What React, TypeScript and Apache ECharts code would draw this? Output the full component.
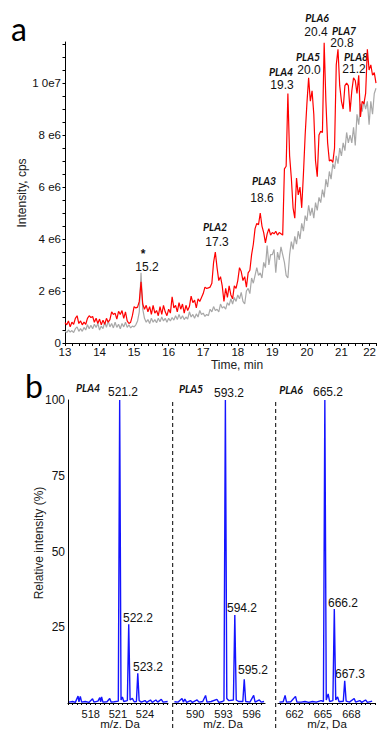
import React, { useEffect, useRef } from 'react';
import * as echarts from 'echarts';

// ---------- Panel a: total ion chromatograms (intensity in millions of cps) ----------
const TIME_START = 13;
const TIME_STEP = 0.05;

// sample trace (red), one row per minute, 0.05 min apart
const sampleIntensity = [
  0.78, 0.70, 0.85, 0.62, 0.80, 0.72, 0.95, 1.05, 0.75, 0.85, 0.70, 0.80, 0.72, 0.95, 1.05, 0.98, 1.02, 0.80, 0.95, 0.75,
  0.92, 0.70, 0.88, 0.72, 0.95, 0.80, 0.90, 1.20, 1.10, 1.15, 0.92, 1.22, 1.10, 1.25, 0.95, 1.20, 0.85, 0.75, 0.80, 1.05,
  1.40, 1.35, 1.38, 1.60, 2.35, 1.50, 1.30, 1.45, 1.20, 1.40, 1.10, 1.45, 1.15, 1.25, 1.05, 1.40, 1.10, 1.45, 1.20, 1.05,
  1.30, 1.15, 1.78, 1.35, 1.45, 1.20, 1.55, 1.30, 1.50, 1.15, 1.45, 1.25, 1.40, 1.80, 1.55, 1.65, 1.35, 1.70, 1.60, 1.75,
  1.90, 2.15, 2.10, 2.12, 2.15, 2.30, 3.10, 3.50, 2.90, 2.40, 2.55, 2.20, 1.60, 2.10, 1.75, 2.20, 1.85, 1.70, 2.20, 2.10,
  2.40, 2.90, 2.75, 2.40, 2.55, 2.15, 2.70, 2.80, 3.40, 3.80, 4.40, 4.60, 4.55, 5.00, 4.50, 4.25, 3.85, 4.20, 4.40, 4.15,
  4.25, 4.20, 4.30, 4.15, 4.25, 4.20, 4.15, 6.70, 6.80, 9.60, 7.20, 6.35, 5.20, 4.80, 6.35, 5.70, 6.00, 5.20, 6.50, 8.00,
  9.20, 10.20, 9.30, 9.70, 8.80, 7.00, 6.40, 8.00, 8.15, 8.10, 11.55, 9.30, 7.70, 7.00, 7.05, 6.95, 7.50, 10.70, 11.30, 9.90,
  9.30, 9.00, 9.90, 10.00, 9.90, 8.90, 9.70, 10.20, 10.10, 9.60, 10.30, 8.70, 9.30, 9.20, 9.60, 11.30, 10.50, 10.70, 10.30, 10.40,
  10.00,
];

// control trace (grey)
const controlIntensity = [
  0.45, 0.40, 0.50, 0.42, 0.48, 0.40, 0.55, 0.62, 0.45, 0.55, 0.45, 0.60, 0.50, 0.70, 0.55, 0.68, 0.55, 0.72, 0.60, 0.75,
  0.50, 0.65, 0.55, 0.80, 0.60, 0.85, 0.62, 0.75, 0.58, 0.80, 0.60, 0.72, 0.55, 0.75, 0.62, 0.80, 0.60, 0.70, 0.58, 0.65,
  0.62, 0.70, 0.85, 1.20, 2.70, 1.30, 0.95, 0.80, 0.90, 0.75, 0.95, 0.80, 0.90, 0.78, 0.95, 0.82, 1.00, 0.85, 0.95, 0.80,
  0.95, 0.85, 0.98, 0.88, 1.05, 0.90, 1.10, 0.92, 1.05, 0.90, 1.00, 0.92, 1.20, 1.00, 1.10, 0.95, 1.12, 1.00, 1.25, 1.10,
  1.15, 1.02, 1.10, 1.05, 1.30, 1.20, 1.40, 1.25, 1.30, 1.20, 1.50, 1.35, 1.40, 1.30, 1.55, 1.45, 1.70, 1.50, 1.75, 1.60,
  1.85, 1.70, 1.95, 1.60, 1.50, 2.00, 2.10, 1.90, 2.50, 2.30, 2.60, 2.90, 2.60, 2.70, 2.50, 3.10, 2.90, 3.75, 3.00, 3.40,
  3.40, 3.60, 2.70, 3.50, 3.20, 3.70, 3.40, 3.10, 2.60, 2.50, 3.40, 3.90, 3.60, 4.10, 3.80, 4.30, 4.00, 4.60, 4.30, 4.90,
  4.70, 5.30, 4.90, 5.20, 4.80, 5.40, 5.10, 5.60, 5.40, 5.90, 5.60, 6.30, 6.00, 6.60, 6.30, 6.90, 6.70, 7.20, 6.90, 7.50,
  7.20, 7.70, 7.40, 8.10, 7.70, 8.00, 7.70, 8.30, 7.60, 8.80, 8.40, 9.20, 8.90, 9.30, 9.00, 9.30, 8.40, 9.30, 8.80, 9.60,
  9.80,
];

const yTickValues = [0, 2, 4, 6, 8, 10];
const yTickLabels = ['0', '2 e6', '4 e6', '6 e6', '8 e6', '1 0e7'];

const chromPeakNames = ['*', 'PLA2', 'PLA3', 'PLA4', 'PLA5', 'PLA6', 'PLA7', 'PLA8'];
const chromPeakTimes = ['15.2', '17.3', '18.6', '19.3', '20.0', '20.4', '20.8', '21.2'];

// ---------- Panel b: mass spectra (relative intensity, %) ----------
const pla4Mz = [515.6, 516.0, 516.3, 516.6, 516.7, 516.85, 517.0, 517.4, 517.8, 518.2, 518.35, 518.8, 519.0, 519.1, 519.2, 519.35, 519.8, 520.1, 520.25, 520.6, 521.05, 521.2, 521.35, 521.5, 521.65, 522.05, 522.2, 522.35, 522.6, 522.8, 523.05, 523.2, 523.35, 523.6, 524.0, 524.2, 524.6, 524.8, 525.2, 525.4, 525.8, 526.0, 526.5];
const pla4Int = [0.3, 0.5, 0.2, 2.3, 0.4, 2.2, 0.3, 0.5, 0.2, 1.4, 0.3, 0.6, 1.8, 0.4, 2.0, 0.3, 0.4, 1.5, 0.3, 0.4, 0.6, 100, 1.0, 2.0, 0.5, 0.8, 26, 1.0, 1.5, 0.4, 0.5, 9.8, 0.8, 0.3, 0.8, 0.2, 1.0, 0.2, 1.0, 0.3, 1.2, 0.3, 0.5];

const pla5Mz = [587.8, 588.2, 588.6, 588.75, 588.9, 589.1, 589.5, 589.7, 590.2, 590.4, 590.8, 591.1, 591.25, 591.7, 592.3, 592.5, 592.9, 593.05, 593.2, 593.35, 593.55, 594.05, 594.2, 594.35, 594.6, 595.05, 595.2, 595.35, 595.8, 596.2, 596.35, 596.8, 597.0, 597.3];
const pla5Int = [0.4, 0.3, 1.5, 0.3, 1.3, 0.2, 0.8, 0.2, 1.0, 0.3, 0.5, 2.5, 0.3, 0.5, 1.2, 0.2, 0.5, 0.8, 100, 1.5, 0.8, 1.0, 29, 1.0, 0.5, 0.5, 7.8, 0.5, 0.3, 2.5, 0.3, 1.0, 0.3, 0.5];

const pla6Mz = [660.4, 660.8, 661.0, 661.15, 661.6, 662.1, 662.25, 662.7, 663.1, 663.5, 663.9, 664.3, 664.8, 665.05, 665.2, 665.35, 665.55, 665.7, 666.05, 666.2, 666.35, 666.55, 666.7, 667.15, 667.3, 667.45, 667.8, 668.3, 668.45, 668.9, 669.1, 669.5, 669.7, 670.2];
const pla6Int = [0.3, 0.4, 2.5, 0.3, 0.4, 2.2, 0.3, 0.3, 0.5, 0.2, 0.5, 0.3, 0.8, 0.5, 100, 1.0, 3.0, 0.5, 0.8, 31, 1.0, 2.0, 0.4, 0.6, 7.3, 0.6, 0.3, 1.5, 0.3, 0.8, 0.2, 1.0, 0.2, 0.6];

const specNames = ['PLA4', 'PLA5', 'PLA6'];
const specPeakLabels = ['521.2', '522.2', '523.2', '593.2', '594.2', '595.2', '665.2', '666.2', '667.3'];
const specTickLabels = [[518, 521, 524], [590, 593, 596], [662, 665, 668]];
const specRanges = [[515.49, 526.54], [587.7, 597.4], [660.25, 670.5]];
const relTickValues = [25, 50, 75, 100];

// ---------- layout (pixel positions for annotations only) ----------
const chromNamePos = [[143, 254], [215, 227], [264, 181], [281, 72], [308, 57], [317, 18], [344, 31], [356, 57]];
const chromTimePos = [[147, 267], [217, 242], [262, 198], [282, 85], [309, 70], [316, 32], [342, 43], [354, 69]];
const specNamePos = [[88, 388], [191, 389], [291, 390]];
const specPeakPos = [[123, 392], [138, 618], [148, 667], [229, 393], [242, 608], [253, 670], [328, 392], [343, 603], [350, 674]];
const specUnitPos = [[120, 724], [223, 724], [327, 724]];
const specUnitTexts = ['m/z. Da', 'm/z. Da', 'm/z, Da'];

const NUM_FONT = '"Liberation Sans", Arial, sans-serif';
const LBL_FONT = 'Lato, "Open Sans", sans-serif';

function halfSteps(a: number, b: number): number[] {
  const out: number[] = [];
  for (let v = Math.ceil(a * 2) / 2; v <= b + 1e-9; v += 0.5) out.push(+v.toFixed(2));
  return out;
}

export default function App() {
  const ref = useRef<HTMLDivElement>(null);
  useEffect(() => {
    if (!ref.current) return;
    const chart = echarts.init(ref.current, undefined, { renderer: 'svg' });

    const times = sampleIntensity.map((_, i) => +(TIME_START + i * TIME_STEP).toFixed(2));
    const red = sampleIntensity.map((v, i) => [times[i], v]);
    const grey = controlIntensity.map((v, i) => [times[i], v]);
    const specs = [
      pla4Mz.map((m, i) => [m, pla4Int[i]]),
      pla5Mz.map((m, i) => [m, pla5Int[i]]),
      pla6Mz.map((m, i) => [m, pla6Int[i]]),
    ];

    const timeMinorTicks: number[] = [];
    for (let i = 0; i <= 45; i++) timeMinorTicks.push(+(13 + i * 0.2).toFixed(2));
    const intTicks: number[] = [];
    for (let i = 0; i <= 23; i++) intTicks.push(i * 0.5);

    const black = '#000';
    const graphics: any[] = [];
    graphics.push({ type: 'text', x: 19, y: 28, style: { text: 'a', fontSize: 32, fontFamily: 'Lato, sans-serif', fill: black, align: 'center', verticalAlign: 'middle' } });
    graphics.push({ type: 'text', x: 34, y: 385, style: { text: 'b', fontSize: 32, fontFamily: 'Lato, sans-serif', fill: black, align: 'center', verticalAlign: 'middle' } });
    graphics.push({ type: 'text', x: 22, y: 193, rotation: Math.PI / 2, style: { text: 'Intensity, cps', fontSize: 12, fontFamily: NUM_FONT, fill: '#222', align: 'center', verticalAlign: 'middle' } });
    graphics.push({ type: 'text', x: 237, y: 365, style: { text: 'Time, min', fontSize: 12, fontFamily: NUM_FONT, fill: '#222', align: 'center', verticalAlign: 'middle' } });
    graphics.push({ type: 'text', x: 39, y: 543, rotation: Math.PI / 2, style: { text: 'Relative intensity (%)', fontSize: 12, fontFamily: NUM_FONT, fill: '#222', align: 'center', verticalAlign: 'middle' } });

    chromPeakNames.forEach((n, i) => {
      const star = n === '*';
      graphics.push({ type: 'text', x: chromNamePos[i][0], y: chromNamePos[i][1], style: { text: n, fontSize: star ? 12 : 10.5, fontWeight: 'bold', fontStyle: star ? 'normal' : 'italic', fontFamily: star ? NUM_FONT : LBL_FONT, fill: '#111', align: 'center', verticalAlign: 'middle' } });
      graphics.push({ type: 'text', x: chromTimePos[i][0], y: chromTimePos[i][1], style: { text: chromPeakTimes[i], fontSize: 12, fontFamily: NUM_FONT, fill: '#111', align: 'center', verticalAlign: 'middle' } });
    });
    specNames.forEach((n, i) => {
      graphics.push({ type: 'text', x: specNamePos[i][0], y: specNamePos[i][1], style: { text: n, fontSize: 10.5, fontWeight: 'bold', fontStyle: 'italic', fontFamily: LBL_FONT, fill: '#111', align: 'center', verticalAlign: 'middle' } });
    });
    specPeakLabels.forEach((t, i) => {
      graphics.push({ type: 'text', x: specPeakPos[i][0], y: specPeakPos[i][1], style: { text: t, fontSize: 12, fontFamily: NUM_FONT, fill: '#111', align: 'center', verticalAlign: 'middle' } });
    });
    specUnitTexts.forEach((t, i) => {
      graphics.push({ type: 'text', x: specUnitPos[i][0], y: specUnitPos[i][1], style: { text: t, fontSize: 11.5, fontFamily: NUM_FONT, fill: '#111', align: 'center', verticalAlign: 'middle' } });
    });
    [172.7, 275.7].forEach((x) => {
      graphics.push({ type: 'line', shape: { x1: x, y1: 402, x2: x, y2: 731 }, style: { stroke: black, lineWidth: 1, lineDash: [4, 3] } });
    });

    const specGrids = [
      { left: 68, width: 100, top: 400, bottom: 28 },
      { left: 173.5, width: 91.5, top: 400, bottom: 28 },
      { left: 278, width: 97, top: 400, bottom: 28 },
    ];

    const option: any = {
      animation: false,
      grid: [{ left: 65, right: 2, top: 42, bottom: 388 }, ...specGrids].map((g) => ({ ...g, outerBoundsMode: 'none', containLabel: false })),
      xAxis: [
        {
          gridIndex: 0, type: 'value', min: 13, max: 22, interval: 1,
          axisLine: { lineStyle: { color: black, width: 1 } },
          axisTick: { show: true, length: 3, customValues: timeMinorTicks, lineStyle: { color: black } },
          axisLabel: { color: '#111', fontSize: 11.5, fontFamily: NUM_FONT, margin: 3, alignMaxLabel: 'right' },
          splitLine: { show: false },
        },
        ...specRanges.map((r, i) => ({
          gridIndex: i + 1, type: 'value', min: r[0], max: r[1],
          axisLine: { lineStyle: { color: black, width: 1.2 } },
          axisTick: { show: true, length: 2, customValues: halfSteps(r[0], r[1]), lineStyle: { color: black } },
          axisLabel: { color: '#111', fontSize: 11, fontFamily: NUM_FONT, margin: 5, customValues: specTickLabels[i] },
          splitLine: { show: false },
        })),
      ],
      yAxis: [
        {
          gridIndex: 0, type: 'value', min: 0, max: 11.58,
          axisLine: { show: true, lineStyle: { color: black, width: 1 } },
          axisTick: { show: true, length: 2.5, customValues: intTicks, lineStyle: { color: black } },
          axisLabel: {
            color: '#111', fontSize: 11.5, fontFamily: NUM_FONT, margin: 4, customValues: yTickValues,
            formatter: (v: number) => { const k = yTickValues.indexOf(Math.round(v)); return k >= 0 ? yTickLabels[k] : ''; },
          },
          splitLine: { show: false },
        },
        ...specRanges.map((_, i) => ({
          gridIndex: i + 1, type: 'value', min: 0, max: 100,
          axisLine: { show: i === 0, lineStyle: { color: black, width: 1 } },
          axisTick: { show: false },
          axisLabel: { show: i === 0, color: '#111', fontSize: 12, fontFamily: NUM_FONT, margin: 3, customValues: relTickValues },
          splitLine: { show: false },
        })),
      ],
      series: [
        { type: 'line', xAxisIndex: 0, yAxisIndex: 0, data: grey, symbol: 'none', lineStyle: { color: '#a8a8a8', width: 1.2 } },
        { type: 'line', xAxisIndex: 0, yAxisIndex: 0, data: red, symbol: 'none', lineStyle: { color: '#ff0000', width: 1.2 } },
        ...specs.map((d, i) => ({ type: 'line', xAxisIndex: i + 1, yAxisIndex: i + 1, data: d, symbol: 'none', lineStyle: { color: '#1414ff', width: 1.4 } })),
      ],
      graphic: graphics,
    };
    chart.setOption(option);
    return () => chart.dispose();
  }, []);

  return <div ref={ref} style={{ position: 'fixed', left: 0, top: 0, width: 378, height: 731, background: '#fff' }} />;
}
